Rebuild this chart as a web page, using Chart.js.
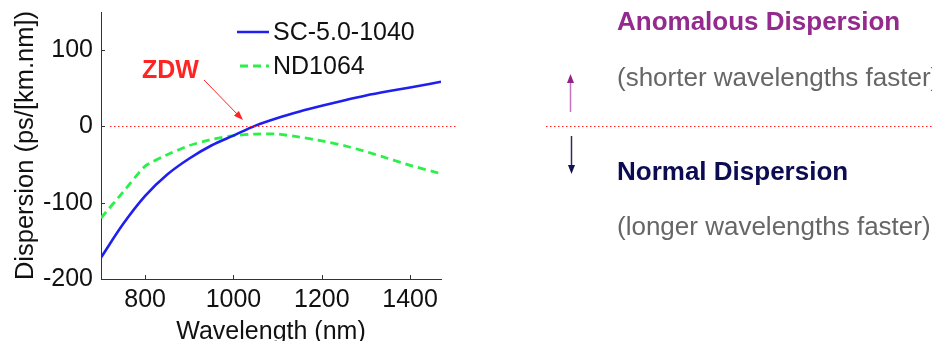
<!DOCTYPE html>
<html>
<head>
<meta charset="utf-8">
<script src="https://cdn.jsdelivr.net/npm/chart.js@4/dist/chart.umd.min.js"></script>
<style>
html,body{margin:0;padding:0;background:#fff;overflow:hidden;width:932px;height:341px;}
#wrap{position:relative;width:932px;height:341px;overflow:hidden;}
canvas{position:absolute;left:0;top:0;}
.t{position:absolute;left:617px;font-family:"Liberation Sans",Arial,sans-serif;font-size:26px;line-height:30px;white-space:nowrap;}
.b{font-weight:bold;}
</style>
</head>
<body>
<div id="wrap">
<canvas id="c" width="932" height="360"></canvas>
<div class="t b" style="top:6px;color:#952a8e;">Anomalous Dispersion</div>
<div class="t" style="top:62px;color:#666;">(shorter wavelengths faster)</div>
<div class="t b" style="top:156px;color:#0c0c52;">Normal Dispersion</div>
<div class="t" style="top:211px;color:#666;">(longer wavelengths faster)</div>
</div>
<script>
// ---- data ----
const wavelengths = [700,750,800,850,900,950,1000,1050,1100,1150,1200,1250,1300,1350,1400,1470];
const sc5_1040 = [-172,-128,-91,-63,-42,-25,-12,1,11,19.5,27,34,40.5,46,51,58.5];
const nd1064 = [-120,-86,-52,-37,-25,-17,-12,-10,-10,-14,-19,-25,-33,-42,-51,-62];
const seriesNames = ["SC-5.0-1040","ND1064"];
const xTicks = [800,1000,1200,1400];
const yTicks = [-200,-100,0,100];
const annotationLabel = "ZDW";

const FONT = "'Liberation Sans', Arial, sans-serif";

const overlay = {
  id:'overlay',
  afterDraw(chart){
    const ctx = chart.ctx;
    const xs = chart.scales.x, ys = chart.scales.y;
    const a = chart.chartArea;
    ctx.save();
    // inward ticks
    ctx.strokeStyle = '#333'; ctx.lineWidth = 1;
    xTicks.forEach(v=>{const px=Math.round(xs.getPixelForValue(v))+0.5;ctx.beginPath();ctx.moveTo(px,a.bottom);ctx.lineTo(px,a.bottom-4);ctx.stroke();});
    yTicks.forEach(v=>{const py=Math.round(ys.getPixelForValue(v))+0.5;ctx.beginPath();ctx.moveTo(a.left,py);ctx.lineTo(a.left+4,py);ctx.stroke();});
    // zero dotted lines
    const y0 = Math.round(ys.getPixelForValue(0))+0.5;
    ctx.strokeStyle = '#ff2020'; ctx.lineWidth = 1; ctx.setLineDash([1.5,2.5]);
    ctx.beginPath(); ctx.moveTo(a.left+9,y0); ctx.lineTo(458,y0); ctx.stroke();
    ctx.beginPath(); ctx.moveTo(546,y0); ctx.lineTo(932,y0); ctx.stroke();
    ctx.setLineDash([]);
    // legend
    const ds = chart.data.datasets;
    ctx.font = "25px " + FONT; ctx.textBaseline='middle'; ctx.fillStyle='#111';
    ctx.lineWidth = 2.5;
    ctx.strokeStyle = ds[0].borderColor;
    ctx.beginPath(); ctx.moveTo(237,32); ctx.lineTo(269,32); ctx.stroke();
    ctx.fillText(ds[0].label, 273, 33);
    ctx.lineWidth = 2.8;
    ctx.strokeStyle = ds[1].borderColor; ctx.setLineDash([8,5]);
    ctx.beginPath(); ctx.moveTo(240,66); ctx.lineTo(269,66); ctx.stroke();
    ctx.setLineDash([]);
    ctx.fillText(ds[1].label, 273, 67);
    // ZDW
    ctx.font = "bold 25px " + FONT; ctx.fillStyle='#ff2424';
    ctx.fillText(annotationLabel, 142, 71);
    ctx.strokeStyle='#ff2424'; ctx.lineWidth=1;
    const x1=204,y1=80,x2=243,y2=120;
    ctx.beginPath(); ctx.moveTo(x1,y1); ctx.lineTo(x2-3,y2-3); ctx.stroke();
    const ang=Math.atan2(y2-y1,x2-x1);
    ctx.fillStyle='#ff2424';
    ctx.beginPath(); ctx.moveTo(x2,y2);
    ctx.lineTo(x2-10*Math.cos(ang-0.35), y2-10*Math.sin(ang-0.35));
    ctx.lineTo(x2-10*Math.cos(ang+0.35), y2-10*Math.sin(ang+0.35));
    ctx.closePath(); ctx.fill();
    // right-panel arrows
    ctx.lineWidth=1.5;
    ctx.strokeStyle='#c673bd';
    ctx.beginPath(); ctx.moveTo(570.5,112); ctx.lineTo(570.5,82); ctx.stroke();
    ctx.fillStyle='#93238a';
    ctx.beginPath(); ctx.moveTo(570.5,74); ctx.lineTo(567,83); ctx.lineTo(574,83); ctx.closePath(); ctx.fill();
    ctx.strokeStyle='#2a2a66';
    ctx.beginPath(); ctx.moveTo(571.5,136); ctx.lineTo(571.5,166); ctx.stroke();
    ctx.fillStyle='#14144f';
    ctx.beginPath(); ctx.moveTo(571.5,174); ctx.lineTo(568,165); ctx.lineTo(575,165); ctx.closePath(); ctx.fill();
    ctx.restore();
  }
};

new Chart(document.getElementById('c'), {
  type:'line',
  data:{
    datasets:[
      {label:seriesNames[0], data:wavelengths.map((w,i)=>({x:w,y:sc5_1040[i]})),
       borderColor:'#1f1ff0', borderWidth:2.6, pointRadius:0, cubicInterpolationMode:'monotone', fill:false},
      {label:seriesNames[1], data:wavelengths.map((w,i)=>({x:w,y:nd1064[i]})),
       borderColor:'#2af04a', borderWidth:2.8, borderDash:[8,5], pointRadius:0, tension:0.15, fill:false}
    ]
  },
  options:{
    responsive:false, animation:false, devicePixelRatio:1,
    layout:{padding:{left:0,top:12,right:491,bottom:0}},
    plugins:{legend:{display:false}, tooltip:{enabled:false}},
    scales:{
      x:{type:'linear', min:700, max:1470,
         afterBuildTicks:s=>{s.ticks = xTicks.map(v=>({value:v}));},
         afterFit:s=>{s.height = 81; s.paddingLeft = 0; s.paddingRight = 0;},
         grid:{display:true, drawOnChartArea:false, drawTicks:false},
         border:{display:true,color:'#333',width:1},
         ticks:{color:'#111', font:{family:FONT,size:25}, padding:6, maxRotation:0, autoSkip:false, callback:v=>String(v)},
         title:{display:true,text:'Wavelength (nm)',color:'#111',font:{family:FONT,size:25},padding:{top:0,bottom:13}}
      },
      y:{type:'linear', min:-200, max:150,
         afterBuildTicks:s=>{s.ticks = yTicks.map(v=>({value:v}));},
         afterFit:s=>{s.width = 101; s.paddingTop = 0; s.paddingBottom = 0;},
         grid:{display:true, drawOnChartArea:false, drawTicks:false},
         border:{display:true,color:'#333',width:1},
         ticks:{color:'#111', font:{family:FONT,size:25}, padding:8, autoSkip:false, callback:v=>String(v)},
         title:{display:true,text:'Dispersion (ps/[km.nm])',color:'#111',font:{family:FONT,size:25.5},padding:{top:11,bottom:0}}
      }
    }
  },
  plugins:[overlay]
});
</script>
</body>
</html>
